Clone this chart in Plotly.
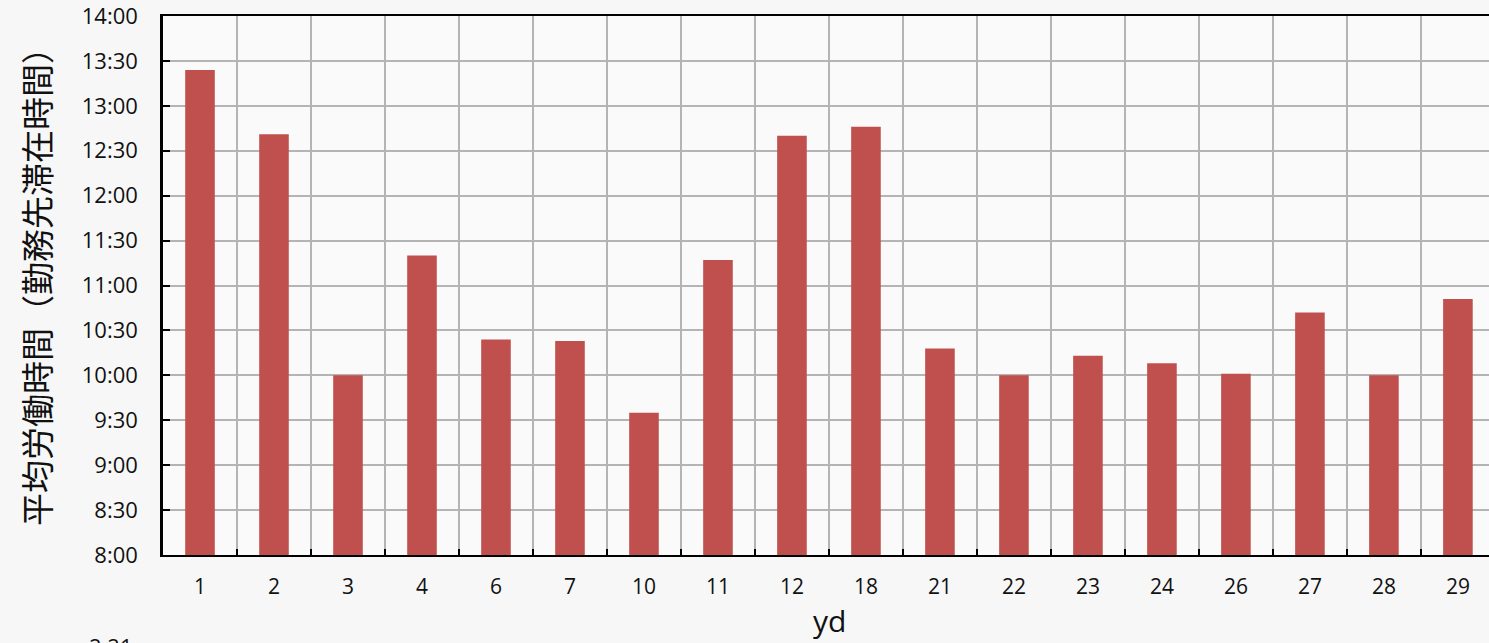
import plotly.graph_objects as go

categories = ["1", "2", "3", "4", "6", "7", "10", "11", "12", "18", "21", "22", "23", "24", "26", "27", "28", "29"]
values_hm = ["13:24", "12:41", "10:00", "11:20", "10:24", "10:23", "9:35", "11:17", "12:40",
             "12:46", "10:18", "10:00", "10:13", "10:08", "10:01", "10:42", "10:00", "10:51"]
y_tick_labels = ["8:00", "8:30", "9:00", "9:30", "10:00", "10:30", "11:00", "11:30",
                 "12:00", "12:30", "13:00", "13:30", "14:00"]
y_title = "平均労働時間（勤務先滞在時間）"
x_title = "yd"


def to_min(s):
    h, m = s.split(":")
    return int(h) * 60 + int(m)


values = [to_min(v) for v in values_hm]
y_tick_vals = [to_min(v) for v in y_tick_labels]

W, H = 1489, 643
L, R, T, B = 163, 0, 14, 88

fig = go.Figure()
fig.add_trace(go.Bar(
    x=categories, y=values, width=0.4,
    marker=dict(color="#c0504d", line=dict(width=0)),
    hoverinfo="skip",
))

font_main = "Open Sans, Noto Sans CJK JP, sans-serif"

fig.update_layout(
    width=W, height=H,
    margin=dict(l=L, r=R, t=T, b=B),
    paper_bgcolor="#f7f7f7",
    plot_bgcolor="#fafafa",
    showlegend=False,
    font=dict(family=font_main, color="#111111"),
    xaxis=dict(
        type="category",
        range=[-0.5, 17.42],
        tickson="boundaries",
        showgrid=True, gridcolor="#b4b4b4", gridwidth=2,
        showline=True, linecolor="#000000", linewidth=2, mirror=True,
        ticks="inside", ticklen=6, tickcolor="#000000", tickwidth=1.5,
        tickfont=dict(size=21, family=font_main, color="#111111"),
        ticklabelstandoff=12,
        ticklabeloverflow="allow",
        title=None,
    ),
    yaxis=dict(
        range=[480, 840],
        tickvals=y_tick_vals, ticktext=y_tick_labels,
        showgrid=True, gridcolor="#b4b4b4", gridwidth=2,
        showline=True, linecolor="#000000", linewidth=2.5,
        ticks="inside", ticklen=7, tickcolor="#000000", tickwidth=2,
        tickfont=dict(size=22, family=font_main, color="#111111"),
        ticklabelstandoff=18,
        ticklabeloverflow="allow",
        zeroline=False,
        title=None,
    ),
    annotations=[
        dict(text=y_title, xref="paper", yref="paper",
             x=-(L - 36) / (W - L), y=(555 - 278) / (555 - T),
             xanchor="center", yanchor="middle", showarrow=False, textangle=-90,
             font=dict(size=33, family="Noto Sans CJK JP", color="#111111")),
        dict(text=x_title, xref="paper", yref="paper",
             x=(829 - L) / (W - L), y=-(621 - 555) / (555 - T),
             xanchor="center", yanchor="middle", showarrow=False,
             font=dict(size=30, family=font_main, color="#111111")),
        dict(text="2:21", xref="paper", yref="paper",
             x=(111 - L) / (W - L), y=-(646 - 555) / (555 - T),
             xanchor="center", yanchor="middle", showarrow=False,
             font=dict(size=22, family=font_main, color="#111111")),
    ],
)

fig.write_html("out.html", config={"displayModeBar": False},
               post_script="document.body.style.margin='0';document.body.style.overflow='hidden';")
